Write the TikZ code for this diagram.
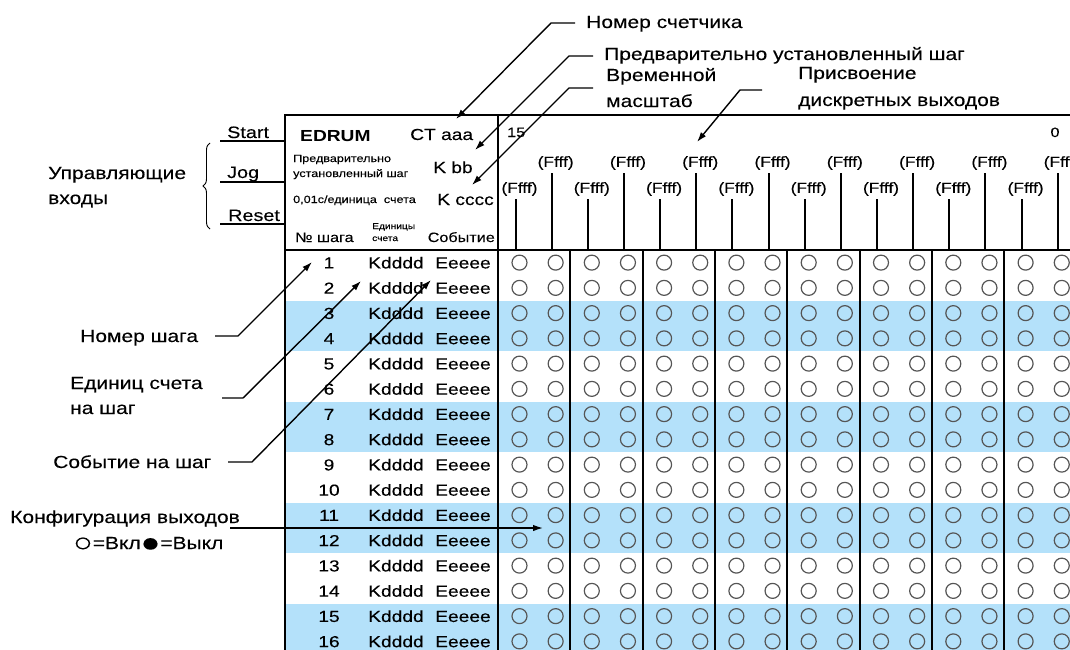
\documentclass[tikz,border=0pt]{standalone}
\usepackage{fontspec}
\setmainfont{Liberation Sans}[FakeStretch=1.2,UprightFeatures={FakeBold=0.2}]
\usetikzlibrary{arrows.meta,decorations.pathreplacing}
\definecolor{band}{RGB}{180,225,250}
\definecolor{ring}{RGB}{85,85,85}

\begin{document}
\begin{tikzpicture}[x=1pt,y=-1pt,
  frame/.style={line width=1.6pt},
  stem/.style={line width=1.8pt},
  lead/.style={line width=1.4pt},
  arr/.style={lead,-{Latex[length=10pt,width=6.5pt]}},
  ringstyle/.style={draw=ring,line width=1.2pt},
  callout/.style={inner sep=0pt,anchor=base west,font=\fontsize{17.5}{20}\selectfont},
  inlabel/.style={inner sep=0pt,anchor=base west,font=\fontsize{16.5}{20}\selectfont},
  rowtxt/.style={inner sep=0pt,font=\fontsize{16}{19}\selectfont},
  head/.style={inner sep=0pt,anchor=base west,font=\fontsize{16}{19}\selectfont},
  small/.style={inner sep=0pt,anchor=base west,font=\fontsize{10.5}{12}\selectfont},
  tiny/.style={inner sep=0pt,anchor=base west,font=\fontsize{8.5}{10}\selectfont},
  colhead/.style={inner sep=0pt,font=\fontsize{13.5}{16}\selectfont},
  flab/.style={inner sep=0pt,font=\fontsize{14.5}{16}\selectfont}
]
\clip (0,0) rectangle (1070,650);

% shaded row pairs
\foreach \r in {3,7,11,15}
  \fill[band] (285,{250+25.25*(\r-1)}) rectangle (1075,{250+25.25*(\r+1)});

% table frame
\draw[frame] (285,655) -- (285,115) -- (1075,115);
\draw[frame] (285,250) -- (1075,250);
\draw[frame] (498,115) -- (498,655);
\foreach \p in {1,...,8}
  \draw[frame] ({round(498+72.3*\p)},250) -- ({round(498+72.3*\p)},655);

% output columns: labels, stems and state circles
\foreach \c in {0,...,15} {
  \pgfmathsetmacro{\cx}{519.5+36.15*\c}
  \pgfmathsetmacro{\sx}{round(\cx-4)}
  \pgfmathsetmacro{\ly}{ifthenelse(mod(\c,2)==1,163,189)}
  \node[flab] (f\c) at (\cx,\ly) {(Ffff)};
  \draw[stem] (\sx,{\ly+10}) -- (\sx,250);
  \foreach \r in {1,...,16}
    \draw[ringstyle] (\cx,{250+25.25*(\r-0.5)}) circle (7.5pt);
}
\node[colhead,anchor=base west] (bit15) at (507,137) {15};
\node[colhead,anchor=base] (bit0) at (1055,137) {0};

% step rows
\foreach \r in {1,...,16} {
  \pgfmathsetmacro{\ry}{250+25.25*(\r-0.5)+5.8}
  \node[rowtxt,anchor=base] (s\r) at (329,\ry) {\r};
  \node[rowtxt,anchor=base west] (k\r) at (368,\ry) {Kdddd};
  \node[rowtxt,anchor=base west] (e\r) at (435,\ry) {Eeeee};
}

% instruction header
\node[head,font=\fontsize{16}{19}\selectfont\bfseries] (edrum) at (300,141) {EDRUM};
\node[head] (ct) at (410,140) {CT aaa};
\node[small] (pre1) at (293,162) {Предварительно};
\node[small] (pre2) at (293,177) {установленный шаг};
\node[head] (kbb) at (433,173) {K bb};
\node[small] (tb) at (293,203) {0,01с/единица\ \ счета};
\node[head] (kcc) at (437,205) {K cccc};
\node[colhead,anchor=base west] (stepno) at (295,242) {№ шага};
\node[tiny] (cnt1) at (372,229) {Единицы};
\node[tiny] (cnt2) at (372,241) {счета};
\node[colhead,anchor=base east] (event) at (495,242) {Событие};

% control inputs
\node[inlabel] (start) at (227,138) {Start};
\node[inlabel] (jog) at (227,178) {Jog};
\node[inlabel] (reset) at (228,221) {Reset};
\coordinate (startL) at (220,141);
\coordinate (jogL) at (220,182);
\coordinate (resetL) at (220,224);
\draw[lead] (startL) -- (285,141);
\draw[lead] (jogL) -- (285,182);
\draw[lead] (resetL) -- (285,224);
\draw[line width=0.9pt,decorate,decoration={brace,amplitude=7pt}] (210,229) -- (210,143);
\node[callout] (ctl1) at (48,179) {Управляющие};
\node[callout] (ctl2) at (48,204) {входы};

% callouts above the table
\node[callout] (lbCT) at (586,28) {Номер счетчика};
\node[callout] (lbPre) at (604,60) {Предварительно установленный шаг};
\node[callout] (lbTb1) at (606,81) {Временной};
\node[callout] (lbTb2) at (606,107) {масштаб};
\node[callout] (lbOut1) at (798,79) {Присвоение};
\node[callout] (lbOut2) at (798,106) {дискретных выходов};

\coordinate (aCT) at (575,23);   \coordinate (bCT) at (551,23);   \coordinate (tCT) at (456,119);
\coordinate (aPre) at (593,56);  \coordinate (bPre) at (569,56);  \coordinate (tPre) at (475,150);
\coordinate (aTb) at (593,88);   \coordinate (bTb) at (569,88);   \coordinate (tTb) at (472,185);
\coordinate (aOut) at (762,90);  \coordinate (bOut) at (740,90);  \coordinate (tOut) at (697,142);
\draw[arr] (aCT) -- (bCT) -- (tCT);
\draw[arr] (aPre) -- (bPre) -- (tPre);
\draw[arr] (aTb) -- (bTb) -- (tTb);
\draw[arr] (aOut) -- (bOut) -- (tOut);

% callouts left of the table
\node[callout] (lbStep) at (80,342) {Номер шага};
\node[callout] (lbCnt1) at (70,389) {Единиц счета};
\node[callout] (lbCnt2) at (70,414) {на шаг};
\node[callout] (lbEv) at (53,468) {Событие на шаг};
\node[callout] (lbCfg) at (10,523) {Конфигурация выходов};
\node[callout] (legend) at (73,549) {\raisebox{-2.5pt}{\fontsize{27}{27}\selectfont ○}=Вкл\raisebox{-2.5pt}{\fontsize{27}{27}\selectfont ●}=Выкл};

\coordinate (aStep) at (215,336); \coordinate (bStep) at (238,336); \coordinate (tStep) at (312,262);
\coordinate (aCnt) at (222,398);  \coordinate (bCnt) at (243,398);  \coordinate (tCnt) at (361,281);
\coordinate (aEv) at (228,462);   \coordinate (bEv) at (252,462);   \coordinate (tEv) at (431,280);
\coordinate (aCfg) at (230,528);  \coordinate (tCfg) at (543,528);
\draw[arr] (aStep) -- (bStep) -- (tStep);
\draw[arr] (aCnt) -- (bCnt) -- (tCnt);
\draw[arr] (aEv) -- (bEv) -- (tEv);
\draw[arr] (aCfg) -- (tCfg);
\end{tikzpicture}
\end{document}
